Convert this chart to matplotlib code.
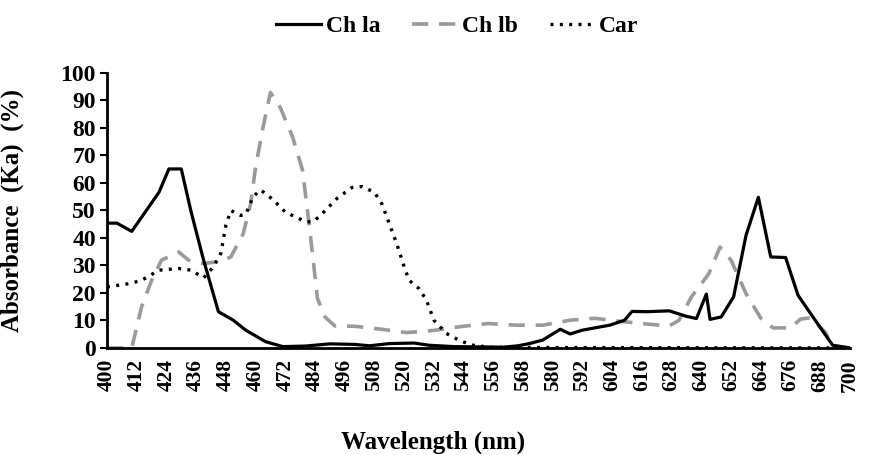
import matplotlib
matplotlib.use('Agg')
import matplotlib.pyplot as plt
import numpy as np

# --- Data (wavelength nm, absorbance %) ---

chla_nm = [400, 404, 410, 421, 425, 430, 434, 439, 445, 451, 456, 464, 471,
           480, 490, 500, 506, 514, 524, 530, 540, 560, 566, 571, 576, 583,
           587, 592, 603, 609, 612, 618, 627, 634, 638, 642, 643.5, 648, 653,
           658, 663, 668, 674, 679, 685, 693, 700]
chla_val = [45.4, 45.4, 42.4, 56.6, 65.1, 65.1, 49.4, 32.0, 13.2, 10.1, 6.5,
            2.3, 0.5, 0.7, 1.5, 1.3, 0.8, 1.6, 1.8, 1.0, 0.5, 0.3, 0.8, 1.7,
            2.9, 6.8, 5.1, 6.5, 8.3, 10.1, 13.3, 13.2, 13.5, 11.5, 10.7, 19.6,
            10.4, 11.3, 18.6, 40.9, 54.8, 33.1, 32.9, 19.2, 11.3, 1.0, 0.0]

chlb_nm = [400, 410, 414, 418, 422, 429, 433, 439, 446, 450, 455, 458, 460,
           463, 466, 470, 475, 479, 482, 485, 488, 492, 500, 511, 521, 532,
           543, 554, 565, 576, 587, 597, 606, 617, 627, 631, 636, 643, 647.5,
           652, 658, 664, 669, 676, 680, 684, 690, 693, 700]
chlb_val = [0.0, 0.0, 15.0, 24.5, 31.9, 34.9, 31.9, 30.7, 31.5, 33.1, 41.5,
            52.4, 65.7, 80.2, 92.9, 87.4, 76.6, 64.5, 42.0, 18.0, 11.3, 8.0,
            7.9, 6.8, 5.6, 6.4, 7.8, 8.9, 8.3, 8.3, 10.1, 10.8, 9.8, 8.8, 8.0,
            10.1, 18.6, 27.0, 36.7, 31.9, 19.8, 10.8, 7.3, 7.3, 10.5, 11.0,
            5.8, 0.8, 0.0]

car_nm = [400, 409, 414, 421, 429, 434, 439, 443, 446, 448, 450, 454, 456,
          459, 462, 467, 472, 480, 483, 486, 493, 499, 503, 508, 511, 514,
          517, 520, 522, 526, 529, 532, 537, 542, 547, 555, 700]
car_val = [22.2, 23.4, 24.6, 28.3, 28.9, 28.3, 25.5, 29.5, 34.5, 44.6, 50.0,
           48.2, 48.5, 55.0, 57.5, 54.0, 49.4, 46.0, 45.8, 48.0, 54.5, 58.4,
           58.7, 56.6, 52.4, 45.2, 37.9, 29.5, 24.6, 21.6, 17.4, 10.1, 5.3,
           2.9, 1.1, 0.2, 0.0]

x_ticks = list(range(400, 701, 12))
y_ticks = list(range(0, 101, 10))

plt.rcParams['font.family'] = ['Liberation Serif', 'DejaVu Serif']
plt.rcParams['font.weight'] = 'bold'

fig = plt.figure(figsize=(8.71, 4.55), dpi=100)
ax = fig.add_axes([0.1228, 0.2352, 0.8531, 0.6044])

ax.plot(chla_nm, chla_val, color='black', linewidth=2.3, linestyle='-',
        label='Ch la', zorder=3)
ax.plot(chlb_nm, chlb_val, color='#9a9a9a', linewidth=2.6,
        linestyle=(0, (4.5, 3.0)), label='Ch lb', zorder=2)
ax.plot(car_nm, car_val, color='black', linewidth=2.4,
        linestyle=(0, (0.9, 1.9)), label='Car', zorder=4)

ax.set_xlim(400, 700)
ax.set_ylim(0, 100)
ax.set_xticks(x_ticks)
ax.set_xticklabels([str(t) for t in x_ticks], rotation=90, fontsize=15.5,
                   fontweight='bold')
ax.set_yticks(y_ticks)
ax.set_yticklabels([str(t) for t in y_ticks], fontsize=17, fontweight='bold')
ax.tick_params(axis='x', length=0, pad=8)
ax.tick_params(axis='y', length=5, width=1.5, direction='out', pad=3)

for side in ['top', 'right']:
    ax.spines[side].set_visible(False)
for side in ['left', 'bottom']:
    ax.spines[side].set_linewidth(2)
    ax.spines[side].set_zorder(6)

ax.set_xlabel('Wavelength (nm)', fontsize=18, fontweight='bold')
ax.xaxis.set_label_coords(0.439, -0.30)
ax.set_ylabel('Absorbance  (Ka)  (%)', fontsize=18, fontweight='bold')
ax.yaxis.set_label_coords(-0.112, 0.5)

fig.legend(loc='upper center', bbox_to_anchor=(0.525, 1.013), ncol=3,
           frameon=False, prop={'size': 17, 'weight': 'bold'},
           handlelength=1.9, columnspacing=1.35, handletextpad=0.2)

fig.savefig('out.png', dpi=100)
